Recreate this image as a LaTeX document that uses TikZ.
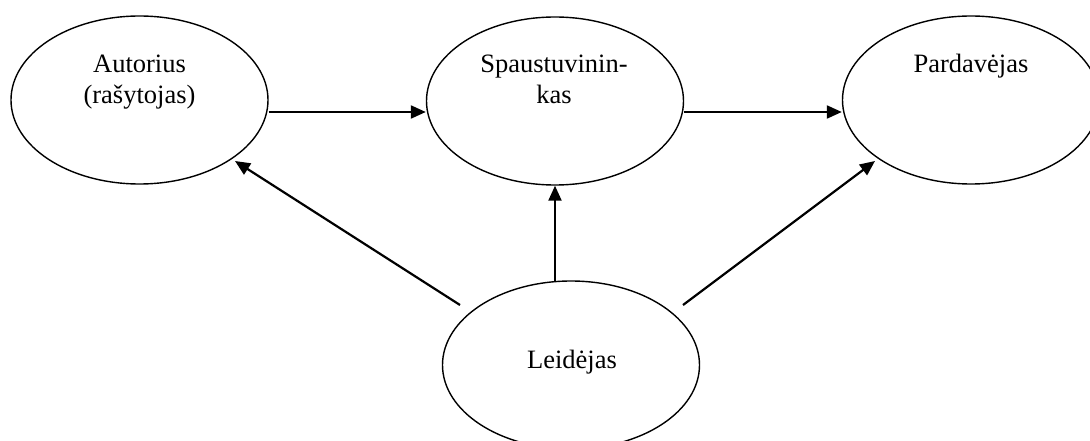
\documentclass[tikz,border=0pt]{standalone}
\usepackage{fontspec}
\setmainfont{Liberation Serif}
\usetikzlibrary{shapes.geometric,arrows.meta,calc}
\begin{document}
\begin{tikzpicture}[x=1pt,y=-1pt,
  oval/.style={draw,ellipse,line width=1.4pt,minimum width=257pt,minimum height=168pt,inner sep=0pt},
  lbl/.style={font=\fontsize{26.5}{31}\selectfont,align=center,anchor=base,inner sep=0pt},
  arr/.style={line width=2.2pt,-{Triangle[length=15pt,width=13pt]}}]
  \useasboundingbox (0,0) rectangle (1090,441);
  % the four parties
  \node[oval] (aut) at (139.5,100) {};
  \node[oval] (spa) at (555,101) {};
  \node[oval] (par) at (971,100) {};
  \node[oval] (lei) at (571,365) {};
  % their names (base of a two-line label is its last line)
  \node[lbl] (autT) at (139.5,104) {Autorius\\(rašytojas)};
  \node[lbl] (spaT) at (554,104) {Spaustuvinin-\\kas};
  \node[lbl] (parT) at (971,73) {Pardavėjas};
  \node[lbl] (leiT) at (572,368) {Leidėjas};
  % the flow of the book
  \draw[arr] ($(aut.east)+(0,12)$) -- ($(spa.west)+(0,11)$);
  \draw[arr] ($(spa.east)+(0,11)$) -- ($(par.west)+(0,12)$);
  \draw[arr] ($(lei)+(-111,-60)$) -- ($(aut)+(95.5,61)$);
  \draw[arr] ($(lei)+(-16,-84)$) -- (spa.south -| {$(lei)+(-16,0)$});
  \draw[arr] ($(lei)+(112,-60)$) -- ($(par)+(-96,61)$);
\end{tikzpicture}
\end{document}
